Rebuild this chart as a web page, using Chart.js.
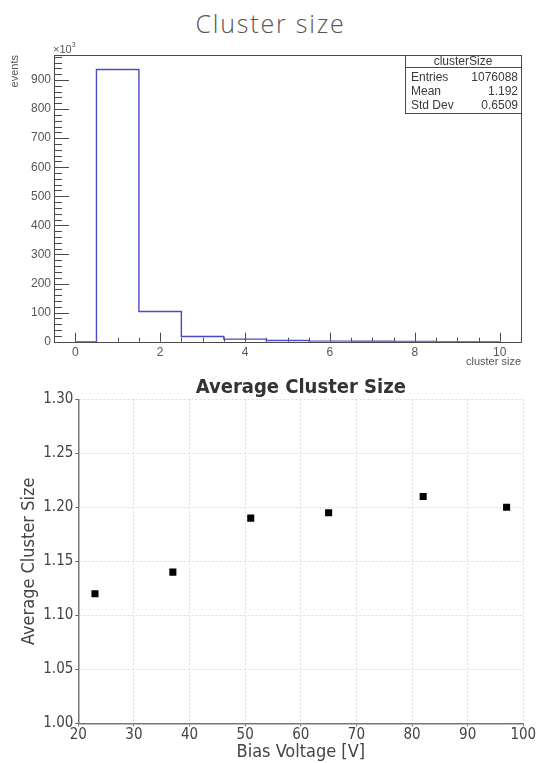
<!DOCTYPE html>
<html>
<head>
<meta charset="utf-8">
<script src="https://cdn.jsdelivr.net/npm/chart.js@4.4.1/dist/chart.umd.min.js"></script>
<style>
body { margin: 0; background: #fff; }
#page { position: relative; width: 541px; height: 763px; overflow: hidden; background: #fff; }
#title { position: absolute; left: 0; top: 6px; width: 541px; text-align: center;
  font-family: 'Open Sans', sans-serif; font-weight: 300; font-size: 25px; letter-spacing: 1.8px; color: #555; }
#hbox { position: absolute; left: 0; top: 30px; width: 541px; height: 340px; }
#sbox { position: absolute; left: 0; top: 370px; width: 541px; height: 393px; }
</style>
</head>
<body>
<div id="page">
  <div id="title">Cluster size</div>
  <div id="hbox"><canvas id="histChart" width="541" height="340"></canvas></div>
  <div id="sbox"><canvas id="scatterChart" width="541" height="393"></canvas></div>
</div>
<script>
// histogram of cluster sizes, counts in units of 10^3
let binCenters = [0, 1, 2, 3, 4, 5, 6, 7, 8, 9, 10];
let binCounts = [0, 936, 104, 18, 9, 4, 2, 1.5, 1, 0, 0];
let histXTicks = [0, 2, 4, 6, 8, 10];
let histYTicks = [0, 100, 200, 300, 400, 500, 600, 700, 800, 900];
let statNames = ["Entries", "Mean", "Std Dev"];
let statValues = ["1076088", "1.192", "0.6509"];

// average cluster size vs bias voltage
let biasVoltage = [23, 37, 51, 65, 82, 97];
let avgClusterSize = [1.12, 1.14, 1.19, 1.195, 1.21, 1.20];

Chart.defaults.animation = false;
const rootFont = "'Liberation Sans', Arial, sans-serif";
const mplFont = "'DejaVu Sans Condensed', 'DejaVu Sans', sans-serif";

// ROOT style frame, inner ticks, x10^3 and stats box
const rootFrame = {
  id: 'rootFrame',
  beforeDatasetsDraw(chart) {
    const ctx = chart.ctx, a = chart.chartArea;
    const xs = chart.scales.x, ys = chart.scales.y;
    ctx.save();
    ctx.strokeStyle = '#4a4a4a';
    ctx.lineWidth = 1;
    ctx.strokeRect(Math.round(a.left) + 0.5, Math.round(a.top) + 0.5,
      Math.round(a.right - a.left), Math.round(a.bottom - a.top));
    ctx.beginPath();
    for (let v = xs.min + 0.5; v < xs.max; v += 0.5) {
      const px = Math.round(xs.getPixelForValue(v)) + 0.5;
      const len = histXTicks.includes(v) ? 9 : 4;
      ctx.moveTo(px, a.bottom); ctx.lineTo(px, a.bottom - len);
    }
    for (let v = 0; v < ys.max; v += 20) {
      const py = Math.round(ys.getPixelForValue(v)) + 0.5;
      const len = histYTicks.includes(v) ? 15 : 8;
      ctx.moveTo(a.left, py); ctx.lineTo(a.left + len, py);
    }
    ctx.stroke();
    // exponent label
    ctx.fillStyle = '#555';
    ctx.textBaseline = 'alphabetic';
    ctx.textAlign = 'left';
    ctx.font = '11px ' + rootFont;
    ctx.fillText('\u00d710', a.left - 1, a.top - 2);
    const w = ctx.measureText('\u00d710').width;
    ctx.font = '7px ' + rootFont;
    ctx.fillText('3', a.left - 1 + w, a.top - 8);
    ctx.restore();
  },
  afterDraw(chart) {
    const ctx = chart.ctx, a = chart.chartArea;
    const bw = 116, bh = 58;
    const bx = Math.round(a.right) - bw, by = Math.round(a.top);
    ctx.save();
    ctx.fillStyle = '#fff';
    ctx.fillRect(bx, by, bw, bh);
    ctx.strokeStyle = '#4a4a4a';
    ctx.lineWidth = 1;
    ctx.strokeRect(bx + 0.5, by + 0.5, bw, bh);
    ctx.beginPath();
    ctx.moveTo(bx, by + 12.5); ctx.lineTo(bx + bw, by + 12.5);
    ctx.stroke();
    ctx.fillStyle = '#3a3a3a';
    ctx.font = '12px ' + rootFont;
    ctx.textBaseline = 'middle';
    ctx.textAlign = 'center';
    ctx.fillText('clusterSize', bx + bw / 2, by + 7);
    statNames.forEach((n, i) => {
      const y = by + 23 + i * 14;
      ctx.textAlign = 'left';
      ctx.fillText(n, bx + 6, y);
      ctx.textAlign = 'right';
      ctx.fillText(statValues[i], bx + bw - 3, y);
    });
    ctx.restore();
  }
};

new Chart(document.getElementById('histChart'), {
  type: 'line',
  data: {
    datasets: [{
      data: binCenters.map((c, i) => ({x: c, y: binCounts[i]})),
      stepped: 'middle',
      borderColor: '#4a4ac2',
      borderWidth: 1.4,
      pointRadius: 0,
      fill: false
    }]
  },
  options: {
    responsive: false,
    layout: {padding: {left: 0, right: 20, top: 25, bottom: 0}},
    plugins: {legend: {display: false}, tooltip: {enabled: false}},
    scales: {
      x: {
        type: 'linear', min: -0.5, max: 10.5,
        afterBuildTicks: s => { s.ticks = histXTicks.map(v => ({value: v})); },
        afterFit: s => { s.height = 28.3; },
        grid: {display: false, drawTicks: false},
        border: {display: false},
        ticks: {font: {family: rootFont, size: 12}, color: '#555', padding: 4, maxRotation: 0, autoSkip: false},
        title: {display: true, text: 'cluster size', align: 'end', color: '#555',
          font: {family: rootFont, size: 11}, padding: {top: 0, bottom: 1}}
      },
      y: {
        type: 'linear', min: 0, max: 986,
        afterBuildTicks: s => { s.ticks = histYTicks.map(v => ({value: v})); },
        afterFit: s => { s.width = 54; },
        grid: {display: false, drawTicks: false},
        border: {display: false},
        ticks: {font: {family: rootFont, size: 12}, color: '#555', padding: 3},
        title: {display: true, text: 'events', align: 'end', color: '#555',
          font: {family: rootFont, size: 11}, padding: {top: 8, bottom: 0}}
      }
    }
  },
  plugins: [rootFrame]
});

new Chart(document.getElementById('scatterChart'), {
  type: 'scatter',
  data: {
    datasets: [{
      data: biasVoltage.map((v, i) => ({x: v, y: avgClusterSize[i]})),
      pointStyle: 'rect',
      pointRadius: 5,
      backgroundColor: '#000',
      borderColor: '#000',
      borderWidth: 0
    }]
  },
  options: {
    responsive: false,
    layout: {padding: {left: 0, right: 17.7, top: 0, bottom: 0}},
    plugins: {
      legend: {display: false},
      tooltip: {enabled: false},
      title: {display: true, text: 'Average Cluster Size', fullSize: false, color: '#333',
        font: {family: mplFont, size: 20, weight: 'bold'}, padding: {top: 5.3, bottom: 0}}
    },
    scales: {
      x: {
        type: 'linear', min: 20, max: 100,
        afterFit: s => { s.height = 39.7; },
        ticks: {stepSize: 10, font: {family: mplFont, size: 15}, color: '#444', padding: 0},
        grid: {color: '#dcdcdc', tickColor: '#666', tickLength: 3},
        border: {color: '#777', width: 1.5, dash: [2, 2]},
        title: {display: true, text: 'Bias Voltage [V]', color: '#444',
          font: {family: mplFont, size: 18}, padding: {top: 0, bottom: 0}}
      },
      y: {
        type: 'linear', min: 1.0, max: 1.3,
        afterFit: s => { s.width = 78.3; },
        ticks: {stepSize: 0.05, font: {family: mplFont, size: 15}, color: '#444', padding: 2,
          callback: v => v.toFixed(2)},
        grid: {color: '#dcdcdc', tickColor: '#666', tickLength: 3},
        border: {color: '#777', width: 1.5, dash: [2, 2]},
        title: {display: true, text: 'Average Cluster Size', color: '#444',
          font: {family: mplFont, size: 18}, padding: {top: 18.6, bottom: 0}}
      }
    }
  }
});
</script>
</body>
</html>
